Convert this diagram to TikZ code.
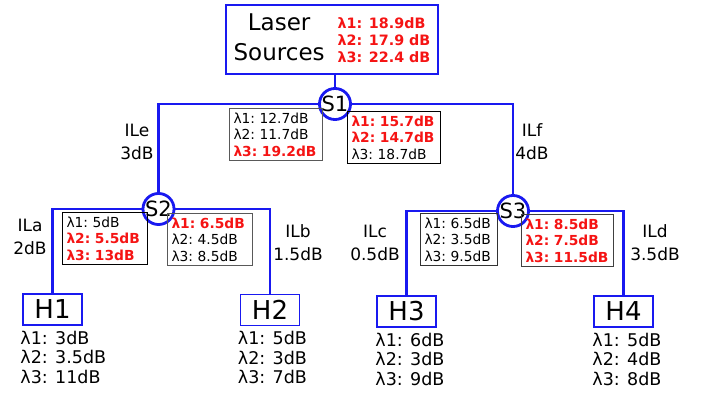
\documentclass[tikz,border=0pt]{standalone}
\usepackage{fontspec}
\setmainfont{DejaVu Sans}
\usepackage{xcolor}
\usetikzlibrary{positioning}
\definecolor{linkblue}{RGB}{25,25,240}
\definecolor{lossred}{RGB}{245,20,20}
\tikzstyle{split}=[
draw=linkblue,
line width=2.8pt,
circle,
fill=white,
inner sep=0pt,
minimum size=29pt,
font=\fontsize{21}{21}\selectfont
]
\tikzstyle{host}=[
draw=linkblue,
line width=1.6pt,
minimum width=59pt,
minimum height=31pt,
font=\fontsize{26}{26}\selectfont
]
\tikzstyle{link}=[
draw=linkblue,
line width=2.8pt
]
\tikzstyle{lossbox}=[
draw,
line width=1pt,
align=left,
inner xsep=4pt,
inner ysep=0pt,
minimum height=52pt,
font=\fontsize{13.8}{16.5}\selectfont
]
\tikzstyle{hostloss}=[
align=left,
inner sep=0pt,
font=\fontsize{17.5}{19.5}\selectfont
]
\tikzstyle{il}=[
align=center,
font=\fontsize{17}{23}\selectfont
]
\newcommand{\hot}[1]{\textcolor{lossred}{\textbf{#1}}}

\begin{document}
\begin{tikzpicture}[x=1pt,y=-1pt]
\useasboundingbox (0,0) rectangle (709,394);

\node (laser) [draw=linkblue, line width=1.6pt, minimum width=212pt, minimum height=69pt, inner sep=0pt] at (332,39.5) {
{\fontsize{23}{30}\selectfont\begin{tabular}{@{}c@{}}
Laser\\
Sources
\end{tabular}}\hspace{13pt}%
{\fontsize{14.3}{17}\selectfont\begin{tabular}{@{}l@{}}
\hot{λ1: 18.9dB}\\
\hot{λ2: 17.9 dB}\\
\hot{λ3: 22.4 dB}
\end{tabular}}
};

\node (s1) [split] at (335,104) {S1};
\node (s2) [split] at (158.5,209) {S2};
\node (s3) [split] at (513,211) {S3};

\node (h1) [host] at (52.5,309.5) {H1};
\node (h2) [host] at (270,310) {H2};
\node (h3) [host] at (406.5,311.5) {H3};
\node (h4) [host] at (623.5,311.5) {H4};

% fibre links
\draw [link] (s1) -- (s1 |- laser.south);
\draw [link] (s1) -| (s2);
\draw [link] (s1) -| (s3);
\draw [link] (s2) -| (h1);
\draw [link] (s2) -| (h2);
\draw [link] (s3) -| (h3);
\draw [link] (s3) -| (h4);

% losses at the splitters
\node (s1l) [lossbox, draw=black!65, text width=85pt, anchor=north west] at (229,108) {λ1:~12.7dB\\λ2:~11.7dB\\\hot{λ3:~19.2dB}};
\node (s1r) [lossbox, text width=85pt, anchor=north west] at (347,111) {\hot{λ1:~15.7dB}\\\hot{λ2:~14.7dB}\\λ3:~18.7dB};
\node (s2l) [lossbox, text width=77pt, anchor=north west] at (62,212) {λ1:~5dB\\\hot{λ2:~5.5dB}\\\hot{λ3:~13dB}};
\node (s2r) [lossbox, draw=black!65, text width=77pt, anchor=north west] at (167,213) {\hot{λ1:~6.5dB}\\λ2:~4.5dB\\λ3:~8.5dB};
\node (s3l) [lossbox, draw=black!80, text width=69pt, anchor=north west] at (420,213) {λ1:~6.5dB\\λ2:~3.5dB\\λ3:~9.5dB};
\node (s3r) [lossbox, draw=black!75, text width=84pt, anchor=north west] at (521,214) {\hot{λ1:~8.5dB}\\\hot{λ2:~7.5dB}\\\hot{λ3:~11.5dB}};

% insertion losses of the links
\node (ile) [il] at (137,142) {ILe\\3dB};
\node (ilf) [il] at (532,142) {ILf\\4dB};
\node (ila) [il] at (30,237) {ILa\\2dB};
\node (ilb) [il] at (298,243) {ILb\\1.5dB};
\node (ilc) [il] at (375,243) {ILc\\0.5dB};
\node (ild) [il] at (655,243) {ILd\\3.5dB};

% received at the hosts
\node (h1loss) [hostloss, below right=5pt and -2pt of h1.south west] {λ1: 3dB\\λ2: 3.5dB\\λ3: 11dB};
\node (h2loss) [hostloss, below right=5pt and -2pt of h2.south west] {λ1: 5dB\\λ2: 3dB\\λ3: 7dB};
\node (h3loss) [hostloss, below right=5pt and -1pt of h3.south west] {λ1: 6dB\\λ2: 3dB\\λ3: 9dB};
\node (h4loss) [hostloss, below right=5pt and -1pt of h4.south west] {λ1: 5dB\\λ2: 4dB\\λ3: 8dB};

\end{tikzpicture}
\end{document}
